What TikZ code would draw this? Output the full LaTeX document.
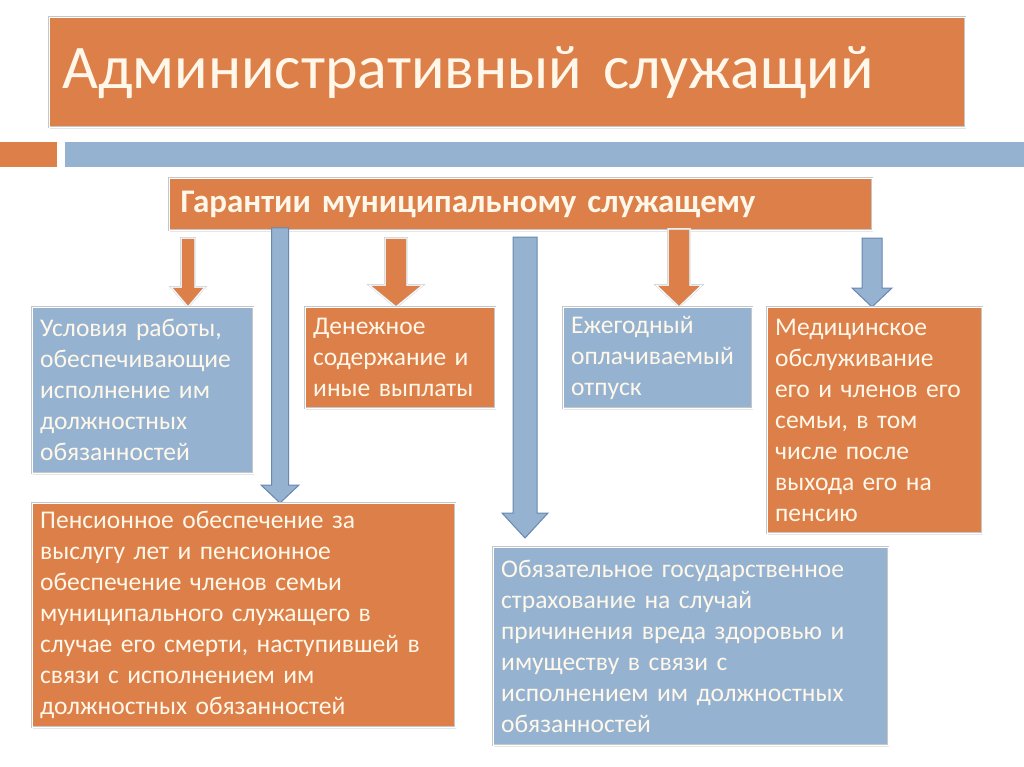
\documentclass[tikz,border=0pt]{standalone}
\usepackage{fontspec}
\setmainfont{Carlito}
\usetikzlibrary{shadows}
\definecolor{boxorange}{RGB}{221,127,72}
\definecolor{boxblue}{RGB}{149,179,208}
\definecolor{arrowblue}{RGB}{105,135,175}
\definecolor{cream}{RGB}{255,248,234}
% block arrow: style, x, top, head start, tip, shaft half, head half
\newcommand{\blockarrow}[7]{%
\filldraw[#1] ({#2-#6},#3)--({#2+#6},#3)--({#2+#6},#4)--({#2+#7},#4)--(#2,#5)
--({#2-#7},#4)--({#2-#6},#4)--cycle;}
\begin{document}
\begin{tikzpicture}[x=1pt,y=-1pt,
obox/.style={fill=boxorange,draw=gray!45,double=white,double distance=1.2pt,
text=cream,align=left,anchor=north west,inner xsep=8pt,inner ysep=0pt,
drop shadow={shadow xshift=1pt,shadow yshift=-2pt,opacity=0.2},
font=\fontsize{25.5}{31}\selectfont},
bbox/.style={obox,fill=boxblue},
oarrow/.style={fill=boxorange,draw=gray!45,double=white,double distance=1pt},
barrow/.style={fill=boxblue,draw=arrowblue,line width=1pt}]
\useasboundingbox (0,0) rectangle (1024,767);
% title and bar
\node[obox,minimum width=916,minimum height=110,text width=890,
font=\fontsize{62}{66}\selectfont] (title) at (49,17) {Административный служащий};
\fill[boxorange] (0,142) rectangle (57,167);
\fill[boxblue] (65,142) rectangle (1024,167);
\node[obox,minimum width=703,minimum height=52,text width=680,inner xsep=11pt,
font=\fontsize{33}{36}\selectfont\bfseries] (guar) at (169,178)
{Гарантии муниципальному служащему};
% arrows
\blockarrow{barrow}{280}{228}{485}{503}{8.5}{19}
\blockarrow{barrow}{525}{237}{513}{538}{12}{23}
\blockarrow{oarrow}{188}{238}{287}{307}{7}{17}
\blockarrow{oarrow}{396}{238}{285}{307}{11}{27}
\blockarrow{oarrow}{679}{229}{285}{307}{11}{23}
\blockarrow{barrow}{872}{238}{288}{307}{10}{20}
% boxes
\node[bbox,minimum width=221,minimum height=166,text width=205] (work) at (32,307)
{Условия работы,\\обеспечивающие\\исполнение им\\должностных\\обязанностей};
\node[obox,minimum width=190,minimum height=101,text width=174] (pay) at (305,307)
{Денежное\\содержание и\\иные выплаты};
\node[bbox,minimum width=189,minimum height=101,text width=173] (leave) at (563,307)
{Ежегодный\\оплачиваемый\\отпуск};
\node[obox,minimum width=215,minimum height=226,text width=199] (med) at (767,307)
{Медицинское\\обслуживание\\его и членов его\\семьи, в том\\числе после\\выхода его на\\пенсию};
\node[obox,minimum width=423,minimum height=224,text width=407] (pens) at (32,503)
{Пенсионное обеспечение за\\выслугу лет и пенсионное\\обеспечение членов семьи\\муниципального служащего в\\случае его смерти, наступившей в\\связи с исполнением им\\должностных обязанностей};
\node[bbox,minimum width=395,minimum height=198,text width=379] (ins) at (493,547)
{Обязательное государственное\\страхование на случай\\причинения вреда здоровью и\\имуществу в связи с\\исполнением им должностных\\обязанностей};
\end{tikzpicture}
\end{document}
